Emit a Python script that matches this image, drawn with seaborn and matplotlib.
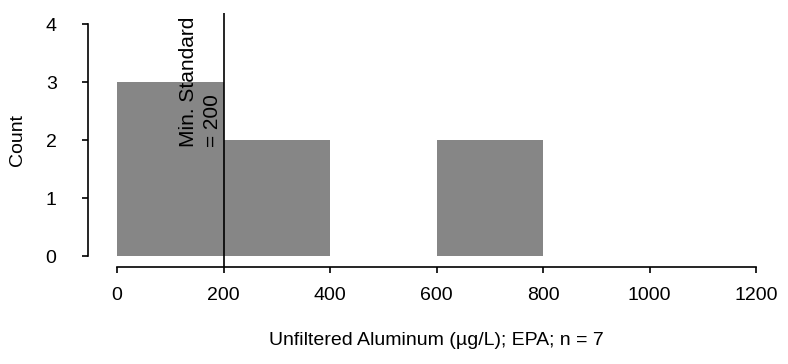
import numpy as np
import pandas as pd
import matplotlib
matplotlib.use("Agg")
import matplotlib.pyplot as plt
import seaborn as sns

# histogram: bin edges and counts
bin_edges = [0, 200, 400, 600, 800, 1000, 1200]
counts = [3, 2, 0, 2, 0, 0]
min_standard = 200

x_ticks = [0, 200, 400, 600, 800, 1000, 1200]
y_ticks = [0, 1, 2, 3, 4]

sns.set_style("ticks")
plt.rcParams["font.family"] = ["Liberation Sans", "DejaVu Sans"]
plt.rcParams["text.color"] = "black"
plt.rcParams["axes.labelcolor"] = "black"

centers = [(a + b) / 2 for a, b in zip(bin_edges[:-1], bin_edges[1:])]
df = pd.DataFrame({"value": centers, "count": counts})

fig = plt.figure(figsize=(7.88, 3.64), dpi=100)
ax = fig.add_axes([0.1485, 0.2967, 0.811, 0.637])

sns.histplot(data=df, x="value", weights="count", bins=bin_edges,
             color="#868686", alpha=1, edgecolor="none", ax=ax)

ax.vlines(min_standard, -0.19, 4.19, color="black", lw=1.2, clip_on=False)
ax.text(min_standard - 3, 1.88, "Min. Standard\n= 200", rotation=90,
        ha="right", va="bottom", multialignment="left", fontsize=15,
        linespacing=1.3)

ax.set_xlim(0, 1200)
ax.set_ylim(0, 4)
ax.set_xticks(x_ticks)
ax.set_yticks(y_ticks)
ax.tick_params(axis="both", direction="out", length=4.5, width=1.2,
               labelsize=14, colors="black")
ax.tick_params(axis="y", pad=18)
ax.tick_params(axis="x", pad=10)
ax.set_xlabel("Unfiltered Aluminum (µg/L); EPA; n = 7", fontsize=14, labelpad=20)
ax.set_ylabel("Count", fontsize=14, labelpad=14)

sns.despine(ax=ax, offset={"left": 21, "bottom": 8})
for s in ["left", "bottom"]:
    ax.spines[s].set_color("black")
    ax.spines[s].set_linewidth(1.2)

fig.savefig("out.png", dpi=100)
